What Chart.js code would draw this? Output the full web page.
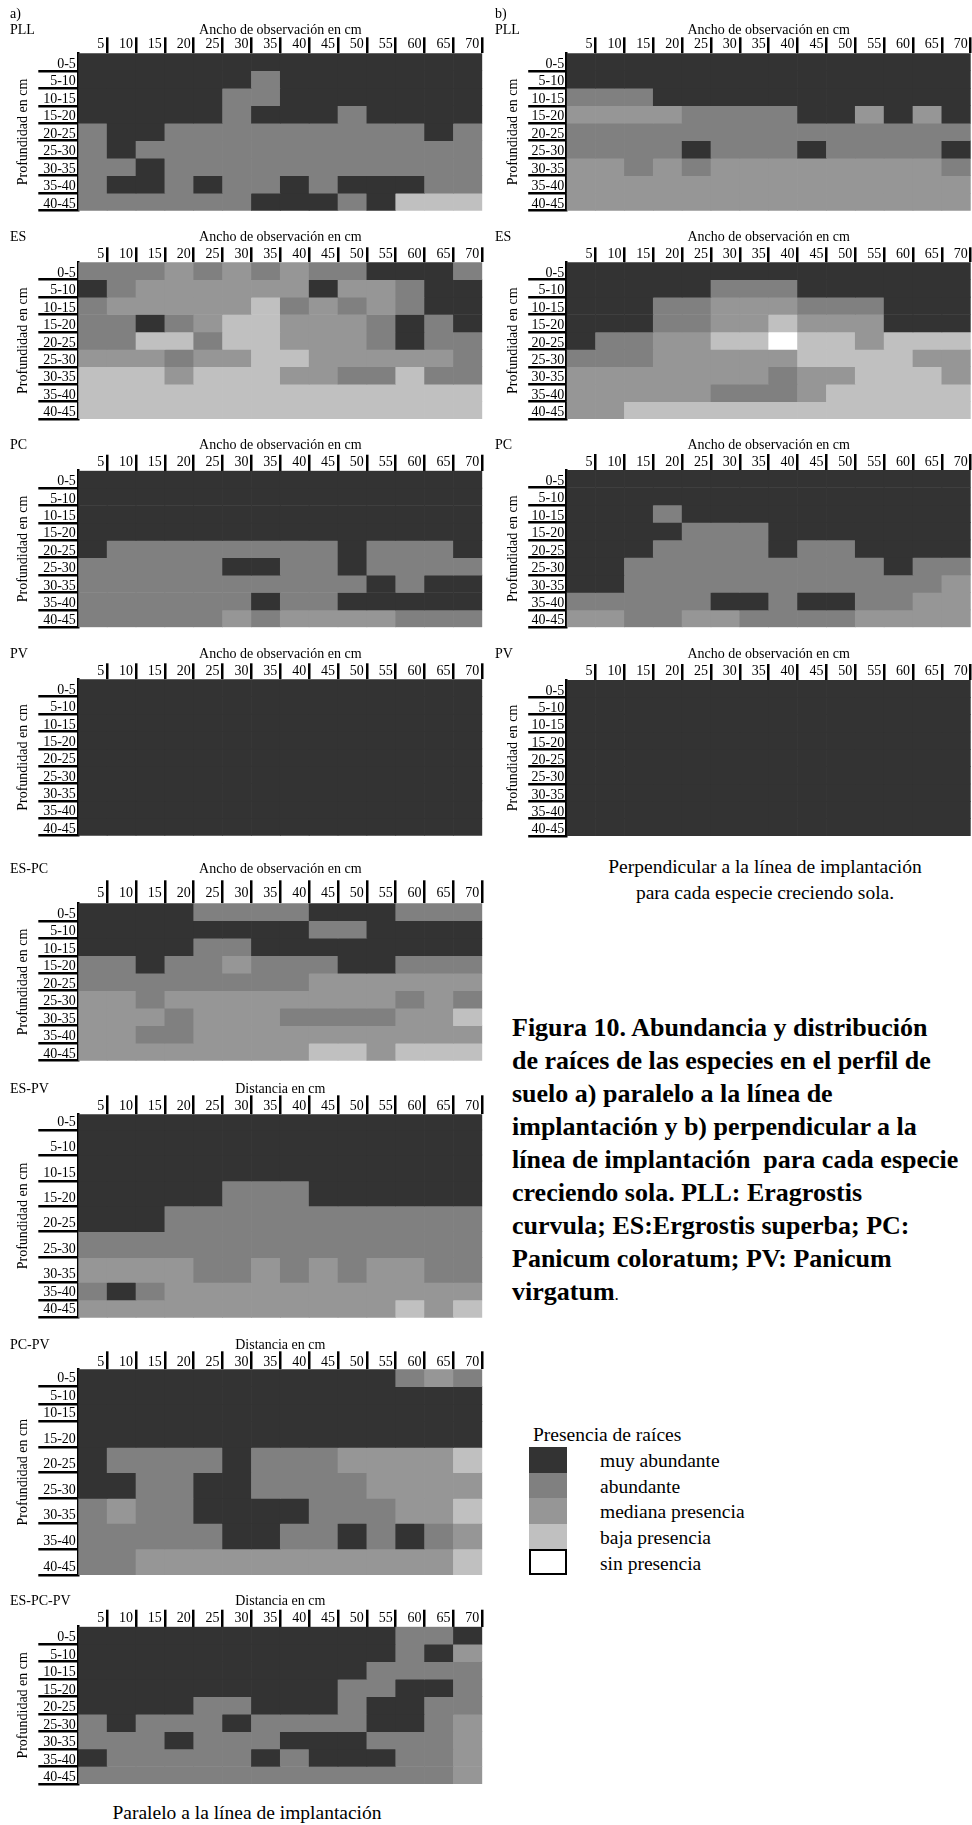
<!DOCTYPE html>
<html>
<head>
<meta charset="utf-8">
<script src="https://cdn.jsdelivr.net/npm/chart.js@4.4.1/dist/chart.umd.min.js"></script>
<style>
  body { margin: 0; background: #fff; width: 972px; height: 1825px; position: relative; overflow: hidden;
         font-family: "Liberation Serif", "Times New Roman", serif; color: #000; }
  canvas { position: absolute; }
  .t { position: absolute; white-space: nowrap; }
  .cap { position: absolute; left: 512px; top: 1011px; font-size: 26px; line-height: 33px; font-weight: bold; white-space: nowrap; }
  .cap .dot { font-weight: normal; font-size: 17px; }
  .sw { position: absolute; left: 529px; width: 38px; height: 25.6px; box-sizing: border-box; }
</style>
</head>
<body>
<script>
// Depth rows (y) and observation width columns (x)
const DEPTHS = ["0-5", "5-10", "10-15", "15-20", "20-25", "25-30", "30-35", "35-40", "40-45"];
const WIDTHS = ["5", "10", "15", "20", "25", "30", "35", "40", "45", "50", "55", "60", "65", "70"];

// 0 sin presencia, 1 baja presencia, 2 mediana presencia, 3 abundante, 4 muy abundante
const LEVEL_NAMES = ["sin presencia", "baja presencia", "mediana presencia", "abundante", "muy abundante"];
const LEVEL_COLORS = ["#ffffff", "#c0c0c0", "#969696", "#808080", "#333333"];

// a) paralelo a la linea de implantacion
const PLL_A = [
  [4,4,4,4,4,4,4,4,4,4,4,4,4,4],
  [4,4,4,4,4,4,3,4,4,4,4,4,4,4],
  [4,4,4,4,4,3,3,4,4,4,4,4,4,4],
  [4,4,4,4,4,3,4,4,4,3,4,4,4,4],
  [3,4,4,3,3,3,3,3,3,3,3,3,4,3],
  [3,4,3,3,3,3,3,3,3,3,3,3,3,3],
  [3,3,4,3,3,3,3,3,3,3,3,3,3,3],
  [3,4,4,3,4,3,3,4,3,4,4,4,3,3],
  [3,3,3,3,3,3,4,4,4,3,4,1,1,1],
];
const ES_A = [
  [3,3,3,2,3,2,3,2,3,3,4,4,4,3],
  [4,3,2,2,2,2,2,2,4,2,2,3,4,4],
  [3,2,2,2,2,2,1,3,2,3,2,3,4,4],
  [3,3,4,3,2,1,1,2,2,2,3,4,3,4],
  [3,3,1,1,3,1,1,2,2,2,3,4,3,3],
  [2,2,2,3,2,2,1,1,2,2,2,2,2,3],
  [1,1,1,2,1,1,1,2,2,3,3,1,3,3],
  [1,1,1,1,1,1,1,1,1,1,1,1,1,1],
  [1,1,1,1,1,1,1,1,1,1,1,1,1,1],
];
const PC_A = [
  [4,4,4,4,4,4,4,4,4,4,4,4,4,4],
  [4,4,4,4,4,4,4,4,4,4,4,4,4,4],
  [4,4,4,4,4,4,4,4,4,4,4,4,4,4],
  [4,4,4,4,4,4,4,4,4,4,4,4,4,4],
  [4,3,3,3,3,3,3,3,3,4,3,3,3,4],
  [3,3,3,3,3,4,4,3,3,4,3,3,3,3],
  [3,3,3,3,3,3,3,3,3,3,4,3,4,4],
  [3,3,3,3,3,3,4,3,3,4,4,4,4,4],
  [3,3,3,3,3,2,3,2,2,2,2,3,3,3],
];
const PV_A = [
  [4,4,4,4,4,4,4,4,4,4,4,4,4,4],
  [4,4,4,4,4,4,4,4,4,4,4,4,4,4],
  [4,4,4,4,4,4,4,4,4,4,4,4,4,4],
  [4,4,4,4,4,4,4,4,4,4,4,4,4,4],
  [4,4,4,4,4,4,4,4,4,4,4,4,4,4],
  [4,4,4,4,4,4,4,4,4,4,4,4,4,4],
  [4,4,4,4,4,4,4,4,4,4,4,4,4,4],
  [4,4,4,4,4,4,4,4,4,4,4,4,4,4],
  [4,4,4,4,4,4,4,4,4,4,4,4,4,4],
];
const ES_PC = [
  [4,4,4,4,3,3,3,3,4,4,4,3,3,3],
  [4,4,4,4,4,4,4,4,3,3,4,4,4,4],
  [4,4,4,4,3,3,4,4,4,4,4,4,4,4],
  [3,3,4,3,3,2,3,3,3,4,4,3,3,3],
  [3,3,3,3,3,3,3,3,2,2,2,2,2,2],
  [2,2,3,2,2,2,2,2,2,2,2,3,2,3],
  [2,2,2,3,2,2,2,3,3,3,3,2,2,1],
  [2,2,3,3,2,2,2,2,2,2,2,2,2,2],
  [2,2,2,2,2,2,2,2,1,1,2,1,1,1],
];
const ES_PV = [
  [4,4,4,4,4,4,4,4,4,4,4,4,4,4],
  [4,4,4,4,4,4,4,4,4,4,4,4,4,4],
  [4,4,4,4,4,4,4,4,4,4,4,4,4,4],
  [4,4,4,4,4,3,3,3,4,4,4,4,4,4],
  [4,4,4,3,3,3,3,3,3,3,3,3,3,3],
  [3,3,3,3,3,3,3,3,3,3,3,3,3,3],
  [2,2,2,2,3,3,2,3,2,3,2,2,3,3],
  [3,4,3,2,2,2,2,2,2,2,2,2,2,2],
  [2,2,2,2,2,2,2,2,2,2,2,1,2,1],
];
const PC_PV = [
  [4,4,4,4,4,4,4,4,4,4,4,3,2,3],
  [4,4,4,4,4,4,4,4,4,4,4,4,4,4],
  [4,4,4,4,4,4,4,4,4,4,4,4,4,4],
  [4,4,4,4,4,4,4,4,4,4,4,4,4,4],
  [4,3,3,3,3,4,3,3,3,2,2,2,2,1],
  [4,4,3,3,4,4,3,3,3,3,2,2,2,2],
  [3,2,3,3,4,4,4,4,3,3,3,2,2,1],
  [3,3,3,3,3,4,4,3,3,4,3,4,3,2],
  [3,3,2,2,2,2,2,2,2,2,2,2,2,1],
];
const ES_PC_PV = [
  [4,4,4,4,4,4,4,4,4,4,4,3,3,4],
  [4,4,4,4,4,4,4,4,4,4,4,3,4,2],
  [4,4,4,4,4,4,4,4,4,4,3,3,3,3],
  [4,4,4,4,4,4,4,4,4,3,3,4,4,3],
  [4,4,4,4,3,3,4,4,4,3,4,4,3,3],
  [3,4,3,3,3,4,3,3,3,3,4,4,3,2],
  [3,3,3,4,3,3,3,4,4,4,3,3,3,2],
  [4,3,3,3,3,3,4,3,4,4,4,3,3,2],
  [3,3,3,3,3,3,3,3,3,3,3,3,3,2],
];

// b) perpendicular a la linea de implantacion
const PLL_B = [
  [4,4,4,4,4,4,4,4,4,4,4,4,4,4],
  [4,4,4,4,4,4,4,4,4,4,4,4,4,4],
  [3,3,3,4,4,4,4,4,4,4,4,4,4,4],
  [2,2,2,2,3,3,3,3,4,4,2,4,2,4],
  [3,3,3,3,3,3,3,3,3,3,3,3,3,3],
  [3,3,3,3,4,3,3,3,4,3,3,3,3,4],
  [2,2,3,2,3,2,2,2,2,2,2,2,2,3],
  [2,2,2,2,2,2,2,2,2,2,2,2,2,2],
  [2,2,2,2,2,2,2,2,2,2,2,2,2,2],
];
const ES_B = [
  [4,4,4,4,4,4,4,4,4,4,4,4,4,4],
  [4,4,4,4,4,3,3,3,4,4,4,4,4,4],
  [4,4,4,3,3,2,2,2,3,3,3,4,4,4],
  [4,4,4,3,3,2,2,1,2,2,2,4,4,4],
  [4,3,3,2,2,1,1,0,1,1,2,1,1,1],
  [3,3,3,2,2,2,2,2,1,1,1,1,2,2],
  [2,2,2,2,2,2,2,3,2,2,1,1,1,2],
  [2,2,2,2,2,3,3,3,2,1,1,1,1,1],
  [2,2,1,1,1,1,1,1,1,1,1,1,1,1],
];
const PC_B = [
  [4,4,4,4,4,4,4,4,4,4,4,4,4,4],
  [4,4,4,4,4,4,4,4,4,4,4,4,4,4],
  [4,4,4,3,4,4,4,4,4,4,4,4,4,4],
  [4,4,4,4,3,3,3,4,4,4,4,4,4,4],
  [4,4,4,3,3,3,3,4,3,3,4,4,4,4],
  [4,4,3,3,3,3,3,3,3,3,3,4,3,3],
  [4,4,3,3,3,3,3,3,3,3,3,3,3,2],
  [3,3,3,3,3,4,4,3,4,4,3,3,2,2],
  [2,2,3,3,2,2,3,3,3,3,2,2,2,2],
];
const PV_B = PV_A.map(r => r.slice());

const AXIS_ANCHO = "Ancho de observación en cm";
const AXIS_DIST = "Distancia en cm";
const AXIS_DEPTH = "Profundidad en cm";

// page layout
const FONT = { family: "'Liberation Serif', 'Times New Roman', serif", size: 14 };
const NOTE_SIZE = 19.5;
const SIDES = {
  a: { canvasLeft: 0, plotLeft: 78.3, plotRight: 482.3, yTitleX: 23, tickLen: 40, nameX: 10 },
  b: { canvasLeft: 485, plotLeft: 566.7, plotRight: 970.7, yTitleX: 513, tickLen: 38.5, nameX: 495 },
};
const PANELS = [
  { side: "a", name: "PLL", rows: PLL_A, axis: AXIS_ANCHO, titleY: 30, ticksY: 44.3, plotTop: 53.3, plotBottom: 210.7, tick: 16 },
  { side: "a", name: "ES", rows: ES_A, axis: AXIS_ANCHO, titleY: 236.7, ticksY: 253.7, plotTop: 262, plotBottom: 418.7, tick: 15 },
  { side: "a", name: "PC", rows: PC_A, axis: AXIS_ANCHO, titleY: 445, ticksY: 462.7, plotTop: 470.7, plotBottom: 627.3, tick: 16 },
  { side: "a", name: "PV", rows: PV_A, axis: AXIS_ANCHO, titleY: 654, ticksY: 671.7, plotTop: 679.3, plotBottom: 835.7, tick: 16 },
  { side: "a", name: "ES-PC", rows: ES_PC, axis: AXIS_ANCHO, titleY: 869, ticksY: 893.3, plotTop: 903.3, plotBottom: 1060.7, tick: 23 },
  { side: "a", name: "ES-PV", rows: ES_PV, axis: AXIS_DIST, titleY: 1089, ticksY: 1106.7, plotTop: 1114.3, plotBottom: 1317.7, tick: 19,
    rowWeights: [47, 75, 78, 75, 77, 78, 74, 53, 53], labelShift: -8 },
  { side: "a", name: "PC-PV", rows: PC_PV, axis: AXIS_DIST, titleY: 1345, ticksY: 1362.7, plotTop: 1369.3, plotBottom: 1575, tick: 18,
    rowWeights: [52, 53, 52, 77, 76, 77, 75, 77, 78], labelShift: -8 },
  { side: "a", name: "ES-PC-PV", rows: ES_PC_PV, axis: AXIS_DIST, titleY: 1601, ticksY: 1618.3, plotTop: 1626.7, plotBottom: 1784, tick: 17 },
  { side: "b", name: "PLL", rows: PLL_B, axis: AXIS_ANCHO, titleY: 30, ticksY: 44.3, plotTop: 53.3, plotBottom: 210.7, tick: 16 },
  { side: "b", name: "ES", rows: ES_B, axis: AXIS_ANCHO, titleY: 236.7, ticksY: 253.7, plotTop: 262, plotBottom: 418.7, tick: 15 },
  { side: "b", name: "PC", rows: PC_B, axis: AXIS_ANCHO, titleY: 445, ticksY: 462.7, plotTop: 470, plotBottom: 627.3, tick: 16 },
  { side: "b", name: "PV", rows: PV_B, axis: AXIS_ANCHO, titleY: 654, ticksY: 671.7, plotTop: 680, plotBottom: 836, tick: 16 },
];

Chart.defaults.font.family = FONT.family;
Chart.defaults.font.size = FONT.size;
Chart.defaults.color = "#000";

// plain positioned text, vertically centred on cy
function addText(text, x, cy, size, opts) {
  opts = opts || {};
  const el = document.createElement("div");
  el.className = "t";
  el.textContent = text;
  el.style.fontSize = size + "px";
  el.style.lineHeight = size + 4 + "px";
  el.style.top = cy - (size + 4) / 2 + "px";
  el.style.left = x + "px";
  if (opts.center) el.style.transform = "translateX(-50%)";
  document.body.appendChild(el);
  return el;
}

function drawPanel(p) {
  const side = SIDES[p.side];
  const top = p.titleY - 10;
  const w = Math.ceil(side.plotRight - side.canvasLeft + 3);
  const h = Math.ceil(p.plotBottom - top + 3);
  const canvas = document.createElement("canvas");
  canvas.width = w;
  canvas.height = h;
  canvas.style.left = side.canvasLeft + "px";
  canvas.style.top = top + "px";
  canvas.style.width = w + "px";
  canvas.style.height = h + "px";
  document.body.appendChild(canvas);

  const weights = p.rowWeights || DEPTHS.map(() => 1);
  const total = weights.reduce((a, b) => a + b, 0);
  const bounds = [];
  let acc = 0;
  weights.forEach((v) => { acc += v; bounds.push(acc); });
  const colW = (side.plotRight - side.plotLeft) / WIDTHS.length;

  // one stacked dataset per depth row, coloured cell by cell from the levels
  const datasets = DEPTHS.map((d, r) => ({
    label: d,
    data: WIDTHS.map(() => weights[r]),
    backgroundColor: p.rows[r].map((l) => LEVEL_COLORS[l]),
    borderWidth: 0,
    barPercentage: 1,
    categoryPercentage: 1,
  }));

  new Chart(canvas, {
    type: "bar",
    data: { labels: WIDTHS, datasets: datasets },
    options: {
      responsive: false,
      animation: false,
      events: [],
      layout: {
        autoPadding: false,
        padding: { left: 0, top: 0, right: w - (side.plotRight - side.canvasLeft), bottom: h - (p.plotBottom - top) },
      },
      plugins: { legend: { display: false }, tooltip: { enabled: false } },
      scales: {
        x: {
          position: "top",
          stacked: true,
          offset: true,
          grid: {
            offset: true,
            drawOnChartArea: false,
            drawTicks: true,
            tickLength: p.tick,
            lineWidth: (c) => (c.index === 0 ? 0 : 2.5),
            color: "#000",
          },
          border: { display: false },
          ticks: {
            align: "end",
            labelOffset: colW / 2 - 3,
            padding: p.plotTop - p.ticksY - p.tick - 8.4,
            autoSkip: false,
            maxRotation: 0,
            color: "#000",
          },
          title: { display: true, text: p.axis, color: "#000", padding: { top: 1.6, bottom: 0 } },
          afterFit: (s) => { s.height = p.plotTop - top; },
        },
        y: {
          type: "linear",
          stacked: true,
          reverse: true,
          min: 0,
          max: total,
          afterBuildTicks: (s) => { s.ticks = bounds.map((v) => ({ value: v })); },
          ticks: {
            autoSkip: false,
            callback: (v, i) => DEPTHS[i],
            padding: -side.tickLen + 2.5,
            labelOffset: p.labelShift || -6.5,
            color: "#000",
          },
          grid: { drawOnChartArea: false, drawTicks: true, tickLength: side.tickLen, lineWidth: 2.5, color: "#000" },
          border: { display: true, color: "#000", width: 2.5 },
          title: {
            display: true,
            text: AXIS_DEPTH,
            color: "#000",
            padding: { top: side.yTitleX - side.canvasLeft - 8.4, bottom: 0 },
          },
          afterFit: (s) => { s.width = side.plotLeft - side.canvasLeft; },
        },
      },
    },
  });

  addText(p.name, side.nameX, p.titleY, 14);
}

PANELS.forEach(drawPanel);

// panel headers and notes
addText("a)", 10, 14, 14);
addText("b)", 495, 14, 14);
addText("Perpendicular a la línea de implantación", 765, 867, NOTE_SIZE, { center: true });
addText("para cada especie creciendo sola.", 765, 893, NOTE_SIZE, { center: true });
addText("Paralelo a la línea de implantación", 247, 1813, NOTE_SIZE, { center: true });

// legend
addText("Presencia de raíces", 533, 1435, NOTE_SIZE);
[4, 3, 2, 1, 0].forEach((lvl, i) => {
  const y = 1447 + i * 25.6;
  const sw = document.createElement("div");
  sw.className = "sw";
  sw.style.top = y + "px";
  sw.style.background = LEVEL_COLORS[lvl];
  if (lvl === 0) sw.style.border = "2px solid #000";
  document.body.appendChild(sw);
  addText(LEVEL_NAMES[lvl], 600, y + 14, NOTE_SIZE);
});

// figure caption
const cap = document.createElement("div");
cap.className = "cap";
cap.innerHTML =
  "Figura 10. Abundancia y distribución<br>" +
  "de raíces de las especies en el perfil de<br>" +
  "suelo a) paralelo a la línea de<br>" +
  "implantación y b) perpendicular a la<br>" +
  "línea de implantación&nbsp; para cada especie<br>" +
  "creciendo sola. PLL: Eragrostis<br>" +
  "curvula; ES:Ergrostis superba; PC:<br>" +
  "Panicum coloratum; PV: Panicum<br>" +
  "virgatum<span class=\"dot\">.</span>";
document.body.appendChild(cap);
</script>
</body>
</html>
